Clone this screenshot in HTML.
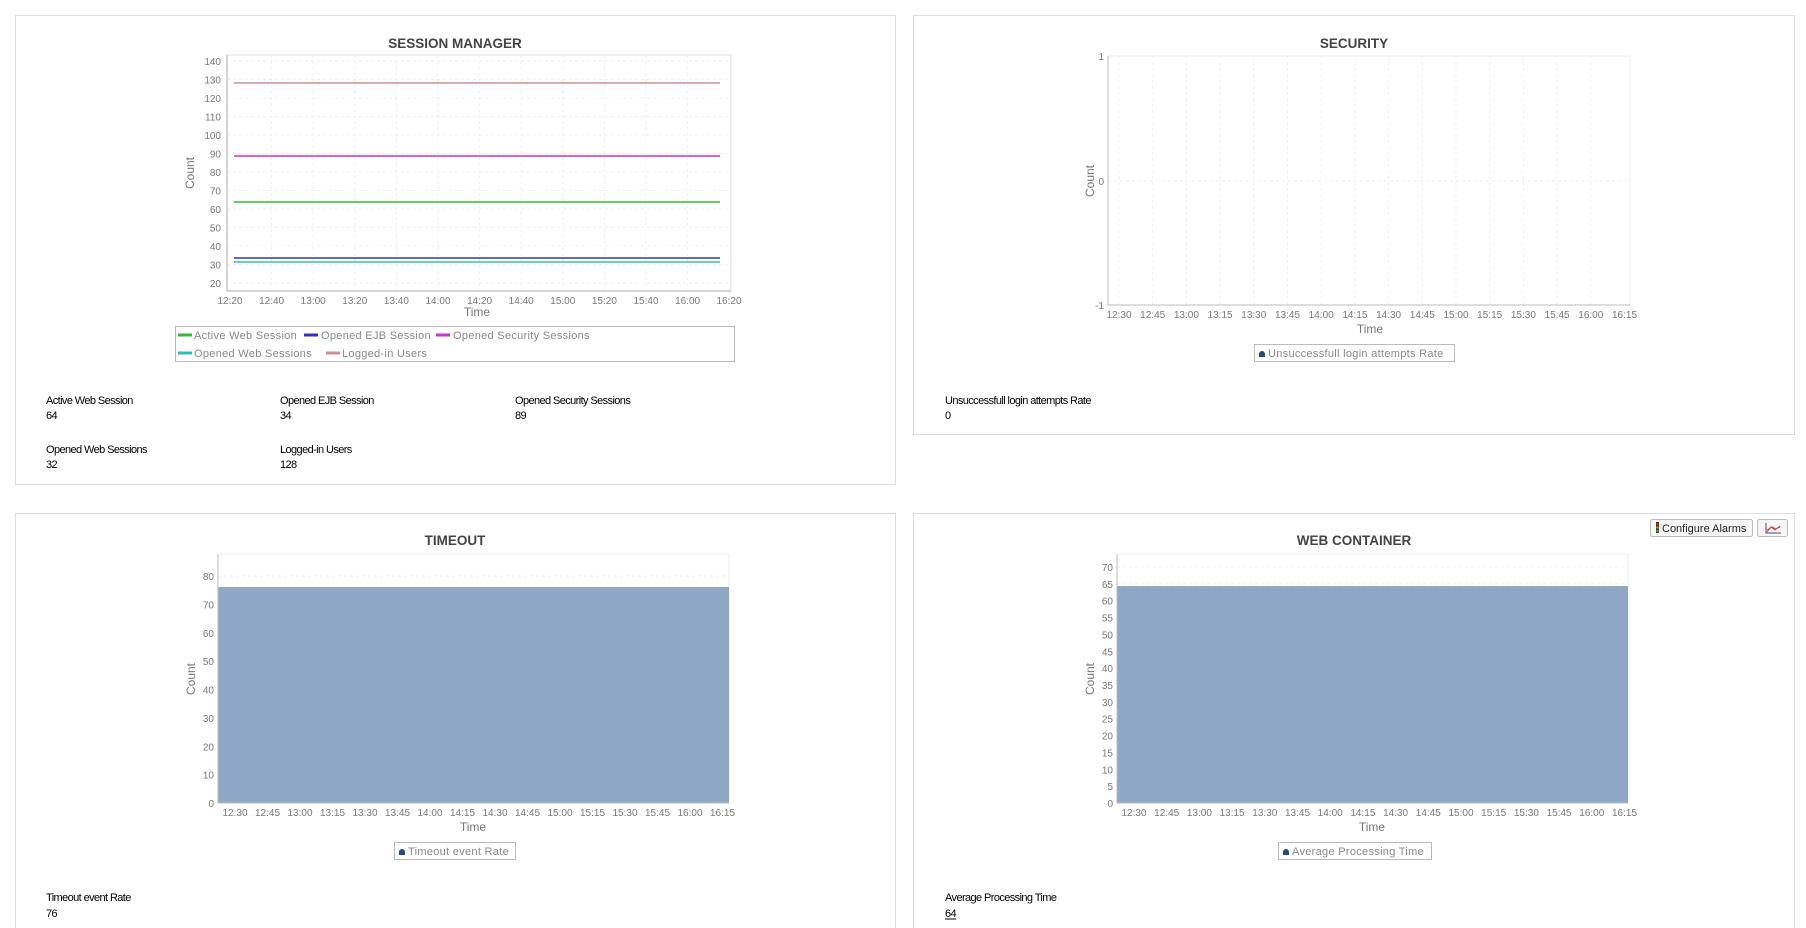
<!DOCTYPE html>
<html><head><meta charset="utf-8"><style>
body{margin:0;background:#fff;}
svg{display:block;font-family:"Liberation Sans",sans-serif;}
.t{font-size:10px;fill:#777;}
.ti{font-size:13.5px;font-weight:bold;fill:#444;}
.ax{font-size:12px;fill:#777;}
.lg{font-size:11px;fill:#888;letter-spacing:0.3px;}
.st{font-size:11px;fill:#000;letter-spacing:-0.6px;}
.g{stroke:#eeeeee;stroke-dasharray:3,3;stroke-width:1;}
</style></head><body>
<svg width="1806" height="928" viewBox="0 0 1806 928">
<rect x="15.5" y="15.5" width="880" height="469" fill="#fff" stroke="#ddd"/>
<rect x="913.5" y="15.5" width="881" height="419" fill="#fff" stroke="#ddd"/>
<rect x="15.5" y="513.5" width="880" height="420" fill="#fff" stroke="#ddd"/>
<rect x="913.5" y="513.5" width="881" height="420" fill="#fff" stroke="#ddd"/>

<text class="ti" x="455" y="48" text-anchor="middle">SESSION MANAGER</text>
<rect x="227" y="55" width="504" height="236" fill="#fff" stroke="#eee" stroke-width="2"/>
<g class="g">
<line x1="227" x2="731" y1="61" y2="61"/><line x1="227" x2="731" y1="79.5" y2="79.5"/><line x1="227" x2="731" y1="98" y2="98"/><line x1="227" x2="731" y1="116.5" y2="116.5"/><line x1="227" x2="731" y1="135" y2="135"/><line x1="227" x2="731" y1="153.5" y2="153.5"/><line x1="227" x2="731" y1="172" y2="172"/><line x1="227" x2="731" y1="190.5" y2="190.5"/><line x1="227" x2="731" y1="209" y2="209"/><line x1="227" x2="731" y1="227.5" y2="227.5"/><line x1="227" x2="731" y1="246" y2="246"/><line x1="227" x2="731" y1="264.5" y2="264.5"/><line x1="227" x2="731" y1="283" y2="283"/>
<line y1="55" y2="291" x1="271.6" x2="271.6"/><line y1="55" y2="291" x1="313.2" x2="313.2"/><line y1="55" y2="291" x1="354.8" x2="354.8"/><line y1="55" y2="291" x1="396.4" x2="396.4"/><line y1="55" y2="291" x1="438" x2="438"/><line y1="55" y2="291" x1="479.6" x2="479.6"/><line y1="55" y2="291" x1="521.2" x2="521.2"/><line y1="55" y2="291" x1="562.8" x2="562.8"/><line y1="55" y2="291" x1="604.4" x2="604.4"/><line y1="55" y2="291" x1="646" x2="646"/><line y1="55" y2="291" x1="687.6" x2="687.6"/>
</g>
<line x1="227" y1="55" x2="227" y2="291" stroke="#bbb"/><line x1="227" y1="291" x2="731" y2="291" stroke="#bbb"/>
<g class="t" text-anchor="end">
<text x="221" y="65">140</text><text x="221" y="83.5">130</text><text x="221" y="102">120</text><text x="221" y="120.5">110</text><text x="221" y="139">100</text><text x="221" y="157.5">90</text><text x="221" y="176">80</text><text x="221" y="194.5">70</text><text x="221" y="213">60</text><text x="221" y="231.5">50</text><text x="221" y="250">40</text><text x="221" y="268.5">30</text><text x="221" y="287">20</text>
</g>
<g class="t" text-anchor="middle">
<text x="230" y="304">12:20</text><text x="271.6" y="304">12:40</text><text x="313.2" y="304">13:00</text><text x="354.8" y="304">13:20</text><text x="396.4" y="304">13:40</text><text x="438" y="304">14:00</text><text x="479.6" y="304">14:20</text><text x="521.2" y="304">14:40</text><text x="562.8" y="304">15:00</text><text x="604.4" y="304">15:20</text><text x="646" y="304">15:40</text><text x="687.6" y="304">16:00</text><text x="729" y="304">16:20</text>
</g>
<text class="ax" x="477" y="316" text-anchor="middle">Time</text>
<text class="ax" transform="translate(194,173) rotate(-90)" text-anchor="middle">Count</text>
<g stroke-width="1.6">
<line x1="234" x2="720" y1="83" y2="83" stroke="#c89090"/>
<line x1="234" x2="720" y1="156" y2="156" stroke="#cc33cc"/>
<line x1="234" x2="720" y1="202" y2="202" stroke="#33bb33"/>
<line x1="234" x2="720" y1="258" y2="258" stroke="#3333bb"/>
<line x1="234" x2="720" y1="262" y2="262" stroke="#33bbbb"/>
</g>
<rect x="175.5" y="326.5" width="559" height="35" fill="none" stroke="#bbb"/>
<g stroke-width="3"><line x1="178" x2="192" y1="335" y2="335" stroke="#33bb33"/><line x1="304" x2="318" y1="335" y2="335" stroke="#3333bb"/><line x1="436" x2="450" y1="335" y2="335" stroke="#cc33cc"/><line x1="178" x2="192" y1="353" y2="353" stroke="#33bbbb"/><line x1="326" x2="340" y1="353" y2="353" stroke="#c89090"/></g>
<g class="lg"><text x="194" y="339">Active Web Session</text><text x="321" y="339">Opened EJB Session</text><text x="453" y="339">Opened Security Sessions</text><text x="194" y="357">Opened Web Sessions</text><text x="342" y="357">Logged-in Users</text></g>
<g class="st"><text x="46" y="404">Active Web Session</text><text x="46" y="419">64</text><text x="280" y="404">Opened EJB Session</text><text x="280" y="419">34</text><text x="515" y="404">Opened Security Sessions</text><text x="515" y="419">89</text><text x="46" y="453">Opened Web Sessions</text><text x="46" y="468">32</text><text x="280" y="453">Logged-in Users</text><text x="280" y="468">128</text></g>

<text class="ti" x="1354" y="48" text-anchor="middle">SECURITY</text>
<rect x="1108" y="56" width="522" height="249" fill="#fff" stroke="#eee"/>
<g class="g">
<line x1="1108" x2="1630" y1="181" y2="181"/>
<line y1="56" y2="305" x1="1119" x2="1119"/><line y1="56" y2="305" x1="1152.7" x2="1152.7"/><line y1="56" y2="305" x1="1186.4" x2="1186.4"/><line y1="56" y2="305" x1="1220.1" x2="1220.1"/><line y1="56" y2="305" x1="1253.8" x2="1253.8"/><line y1="56" y2="305" x1="1287.5" x2="1287.5"/><line y1="56" y2="305" x1="1321.2" x2="1321.2"/><line y1="56" y2="305" x1="1354.9" x2="1354.9"/><line y1="56" y2="305" x1="1388.6" x2="1388.6"/><line y1="56" y2="305" x1="1422.3" x2="1422.3"/><line y1="56" y2="305" x1="1456" x2="1456"/><line y1="56" y2="305" x1="1489.7" x2="1489.7"/><line y1="56" y2="305" x1="1523.4" x2="1523.4"/><line y1="56" y2="305" x1="1557.1" x2="1557.1"/><line y1="56" y2="305" x1="1590.8" x2="1590.8"/>
</g>
<line x1="1108" y1="56" x2="1108" y2="305" stroke="#bbb"/><line x1="1108" y1="305" x2="1630" y2="305" stroke="#bbb"/>
<g class="t" text-anchor="end"><text x="1104" y="60">1</text><text x="1104" y="185">0</text><text x="1104" y="309">-1</text></g>
<g class="t" text-anchor="middle">
<text x="1119" y="318">12:30</text><text x="1152.7" y="318">12:45</text><text x="1186.4" y="318">13:00</text><text x="1220.1" y="318">13:15</text><text x="1253.8" y="318">13:30</text><text x="1287.5" y="318">13:45</text><text x="1321.2" y="318">14:00</text><text x="1354.9" y="318">14:15</text><text x="1388.6" y="318">14:30</text><text x="1422.3" y="318">14:45</text><text x="1456" y="318">15:00</text><text x="1489.7" y="318">15:15</text><text x="1523.4" y="318">15:30</text><text x="1557.1" y="318">15:45</text><text x="1590.8" y="318">16:00</text><text x="1624.5" y="318">16:15</text>
</g>
<text class="ax" x="1370" y="333" text-anchor="middle">Time</text>
<text class="ax" transform="translate(1094,181) rotate(-90)" text-anchor="middle">Count</text>
<rect x="1254.5" y="344.5" width="200" height="17" fill="none" stroke="#bbb"/>
<path d="M1259 357 v-3 a3 3 0 0 1 6 0 v3 z" fill="#224a80"/>
<text class="lg" x="1268" y="357">Unsuccessfull login attempts Rate</text>
<g class="st"><text x="945" y="404">Unsuccessfull login attempts Rate</text><text x="945" y="419">0</text></g>

<text class="ti" x="455" y="545" text-anchor="middle">TIMEOUT</text>
<rect x="218" y="554" width="511" height="249" fill="#fff" stroke="#eee"/>
<g class="g">
<line x1="218" x2="729" y1="576" y2="576"/><line x1="218" x2="729" y1="604.4" y2="604.4"/><line x1="218" x2="729" y1="632.8" y2="632.8"/>
</g>
<rect x="218" y="587" width="511" height="216" fill="#8da7c4"/>
<line x1="218" y1="554" x2="218" y2="803" stroke="#bbb"/><line x1="218" y1="803" x2="729" y2="803" stroke="#bbb"/>
<g class="t" text-anchor="end">
<text x="214" y="580">80</text><text x="214" y="608.4">70</text><text x="214" y="636.8">60</text><text x="214" y="665">50</text><text x="214" y="693.5">40</text><text x="214" y="721.9">30</text><text x="214" y="750.3">20</text><text x="214" y="778.6">10</text><text x="214" y="807">0</text>
</g>
<g class="t" text-anchor="middle">
<text x="235" y="816">12:30</text><text x="267.5" y="816">12:45</text><text x="300" y="816">13:00</text><text x="332.5" y="816">13:15</text><text x="365" y="816">13:30</text><text x="397.5" y="816">13:45</text><text x="430" y="816">14:00</text><text x="462.5" y="816">14:15</text><text x="495" y="816">14:30</text><text x="527.5" y="816">14:45</text><text x="560" y="816">15:00</text><text x="592.5" y="816">15:15</text><text x="625" y="816">15:30</text><text x="657.5" y="816">15:45</text><text x="690" y="816">16:00</text><text x="722.5" y="816">16:15</text>
</g>
<text class="ax" x="473" y="831" text-anchor="middle">Time</text>
<text class="ax" transform="translate(195,679) rotate(-90)" text-anchor="middle">Count</text>
<rect x="394.5" y="842.5" width="121" height="17" fill="none" stroke="#bbb"/>
<path d="M399 855 v-3 a3 3 0 0 1 6 0 v3 z" fill="#224a80"/>
<text class="lg" x="408" y="855">Timeout event Rate</text>
<g class="st"><text x="46" y="901">Timeout event Rate</text><text x="46" y="917">76</text></g>

<rect x="1650.5" y="519.5" width="102" height="17" rx="2" fill="#f6f6f6" stroke="#bbb"/>
<rect x="1656" y="522" width="3" height="11" fill="#333"/><circle cx="1657.5" cy="524" r="1.2" fill="#d22"/><circle cx="1657.5" cy="527.5" r="1.2" fill="#ca0"/><circle cx="1657.5" cy="531" r="1.2" fill="#2c2"/>
<text x="1662" y="532" style="font-size:11px;fill:#222">Configure Alarms</text>
<rect x="1757.5" y="519.5" width="30" height="17" rx="2" fill="#f6f6f6" stroke="#bbb"/>
<path d="M1767 532 l4 -5 4 3 5 -4 M1767 530 l5 -3 4 2 4 -2" stroke="#c44" fill="none"/><path d="M1766 523 v10 h15" stroke="#448" fill="none"/>
<text class="ti" x="1354" y="545" text-anchor="middle">WEB CONTAINER</text>
<rect x="1117" y="554" width="511" height="249" fill="#fff" stroke="#eee"/>
<g class="g"><line x1="1117" x2="1628" y1="567" y2="567"/><line x1="1117" x2="1628" y1="583.9" y2="583.9"/></g>
<rect x="1117" y="586" width="511" height="217" fill="#8da7c4"/>
<line x1="1117" y1="554" x2="1117" y2="803" stroke="#bbb"/><line x1="1117" y1="803" x2="1628" y2="803" stroke="#bbb"/>
<g class="t" text-anchor="end">
<text x="1113" y="571">70</text><text x="1113" y="587.9">65</text><text x="1113" y="604.7">60</text><text x="1113" y="621.6">55</text><text x="1113" y="638.4">50</text><text x="1113" y="655.3">45</text><text x="1113" y="672.2">40</text><text x="1113" y="689">35</text><text x="1113" y="705.9">30</text><text x="1113" y="722.7">25</text><text x="1113" y="739.6">20</text><text x="1113" y="756.4">15</text><text x="1113" y="773.3">10</text><text x="1113" y="790.1">5</text><text x="1113" y="807">0</text>
</g>
<g class="t" text-anchor="middle">
<text x="1134" y="816">12:30</text><text x="1166.7" y="816">12:45</text><text x="1199.4" y="816">13:00</text><text x="1232.1" y="816">13:15</text><text x="1264.8" y="816">13:30</text><text x="1297.5" y="816">13:45</text><text x="1330.2" y="816">14:00</text><text x="1362.9" y="816">14:15</text><text x="1395.6" y="816">14:30</text><text x="1428.3" y="816">14:45</text><text x="1461" y="816">15:00</text><text x="1493.7" y="816">15:15</text><text x="1526.4" y="816">15:30</text><text x="1559.1" y="816">15:45</text><text x="1591.8" y="816">16:00</text><text x="1624.5" y="816">16:15</text>
</g>
<text class="ax" x="1372" y="831" text-anchor="middle">Time</text>
<text class="ax" transform="translate(1094,679) rotate(-90)" text-anchor="middle">Count</text>
<rect x="1278.5" y="842.5" width="153" height="17" fill="none" stroke="#bbb"/>
<path d="M1283 855 v-3 a3 3 0 0 1 6 0 v3 z" fill="#224a80"/>
<text class="lg" x="1292" y="855">Average Processing Time</text>
<g class="st"><text x="945" y="901">Average Processing Time</text><text x="945" y="917">64</text></g>
<line x1="945" x2="956" y1="919" y2="919" stroke="#000"/>
</svg>
</body></html>
